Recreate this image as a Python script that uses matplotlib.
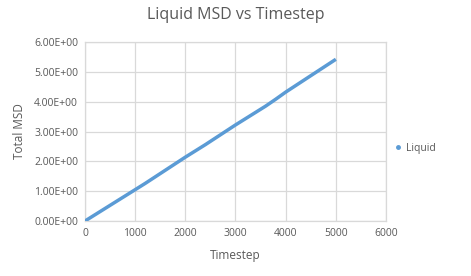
import matplotlib
matplotlib.use("Agg")
import matplotlib.pyplot as plt
from matplotlib.lines import Line2D
from matplotlib.ticker import FuncFormatter

timestep = [0, 200, 400, 600, 800, 1000, 1200, 1400, 1600, 1800, 2000, 2200, 2400,
            2600, 2800, 3000, 3200, 3400, 3600, 3800, 4000, 4200, 4400, 4600, 4800, 5000]
msd = [0.0, 0.21, 0.42, 0.63, 0.84, 1.05, 1.26, 1.48, 1.70, 1.92, 2.14, 2.35, 2.56,
       2.78, 3.00, 3.22, 3.43, 3.64, 3.85, 4.08, 4.32, 4.54, 4.76, 4.98, 5.20, 5.42]
series_name = "Liquid"
x_ticks = [0, 1000, 2000, 3000, 4000, 5000, 6000]
y_ticks = [0, 1, 2, 3, 4, 5, 6]

plt.rcParams['font.family'] = ['Open Sans', 'DejaVu Sans']
txt = '#595959'
blue = '#5B9BD5'
grid = '#D9D9D9'

fig = plt.figure(figsize=(4.71, 2.76), dpi=100)
ax = fig.add_axes([85/471, 1-221/276, (386-85)/471, (221-42)/276])

ax.plot(timestep, msd, color=blue, lw=2.5, solid_capstyle='butt', zorder=3)

ax.set_xlim(0, 6000)
ax.set_ylim(0, 6)
ax.set_xticks(x_ticks)
ax.set_yticks(y_ticks)
ax.yaxis.set_major_formatter(FuncFormatter(lambda v, p: '{:.2E}'.format(v)))
ax.grid(True, color=grid, lw=0.9)
ax.set_axisbelow(True)
for s in ax.spines.values():
    s.set_color(grid)
    s.set_linewidth(0.9)
ax.tick_params(length=0, labelsize=7.5, colors=txt, pad=5)

ax.set_xlabel('Timestep', fontsize=8.5, color=txt, labelpad=7)
ax.set_ylabel('Total MSD', fontsize=8.5, color=txt, labelpad=6)
fig.text(0.5, 1-15/276, 'Liquid MSD vs Timestep', ha='center', va='center',
         fontsize=11.5, color=txt)

h = Line2D([], [], color=blue, marker='o', ls='none', markersize=2.5)
leg = fig.legend([h], [series_name], loc='center left', bbox_to_anchor=(383/471, 1-148/276),
                 frameon=False, fontsize=7.5, handlelength=1.0, handletextpad=0.3)
for t in leg.get_texts():
    t.set_color(txt)

fig.savefig('out.png', dpi=100)
